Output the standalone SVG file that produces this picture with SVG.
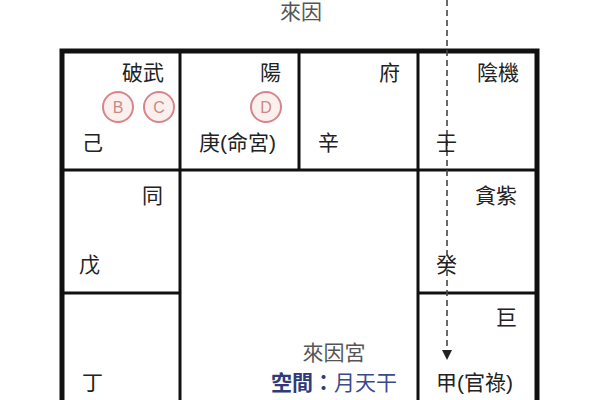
<svg xmlns="http://www.w3.org/2000/svg" width="600" height="400" viewBox="0 0 600 400">
<defs>
<style>
.t{font-family:"Liberation Sans","Noto Sans CJK TC",sans-serif;font-size:21px;fill:#222}
.g{fill:#555}
.c{fill:#fbf0ee;stroke:#d6868b;stroke-width:2}
.cl{font-family:"Liberation Sans",sans-serif;font-size:16px;fill:#c98a84;text-anchor:middle}
.in{stroke:#111;stroke-width:3;fill:none}
</style>
<marker id="ah" markerWidth="10" markerHeight="10" refX="10" refY="5" orient="auto" markerUnits="userSpaceOnUse" viewBox="0 0 10 10"><path d="M0,0 L10,5 L0,10 Z" fill="#222"/></marker>
</defs>
<rect width="600" height="400" fill="#fff"/>
<g id="grid">
<rect x="62" y="51" width="475" height="380" fill="none" stroke="#111" stroke-width="5"/>
<line class="in" x1="62" y1="170" x2="537" y2="170"/>
<line class="in" x1="180" y1="51" x2="180" y2="400"/>
<line class="in" x1="418" y1="51" x2="418" y2="400"/>
<line class="in" x1="299" y1="51" x2="299" y2="170"/>
<line class="in" x1="62" y1="293" x2="180" y2="293"/>
<line class="in" x1="418" y1="293" x2="537" y2="293"/>
</g>
<g id="connectors">
<line x1="447" y1="0" x2="447" y2="360" stroke="#444" stroke-width="1.6" stroke-dasharray="6,4" marker-end="url(#ah)"/>
</g>
<text class="t g" x="301" y="19" text-anchor="middle">來因</text>
<g id="cell-ji">
<text class="t" x="164" y="80" text-anchor="end">破武</text>
<circle class="c" cx="118" cy="107" r="15"/><text class="cl" x="118" y="113">B</text>
<circle class="c" cx="159" cy="107" r="15"/><text class="cl" x="159" y="113">C</text>
<text class="t" x="82" y="150">己</text>
</g>
<g id="cell-geng">
<text class="t" x="281" y="80" text-anchor="end">陽</text>
<circle class="c" cx="266" cy="107" r="15"/><text class="cl" x="266" y="113">D</text>
<text class="t" x="199" y="150">庚(命宮)</text>
</g>
<g id="cell-xin">
<text class="t" x="400" y="80" text-anchor="end">府</text>
<text class="t" x="318" y="150">辛</text>
</g>
<g id="cell-ren">
<text class="t" x="519" y="80" text-anchor="end">陰機</text>
<text class="t" x="436" y="150">壬</text>
</g>
<g id="cell-wu">
<text class="t" x="163" y="203" text-anchor="end">同</text>
<text class="t" x="79" y="272">戊</text>
</g>
<g id="cell-gui">
<text class="t" x="517" y="203" text-anchor="end">貪紫</text>
<text class="t" x="436" y="272">癸</text>
</g>
<g id="cell-ding">
<text class="t" x="82" y="390">丁</text>
</g>
<g id="cell-jia">
<text class="t" x="517" y="325" text-anchor="end">巨</text>
<text class="t" x="436" y="390">甲(官祿)</text>
</g>
<g id="center">
<text class="t g" x="334" y="360" text-anchor="middle">來因宮</text>
<text class="t" x="334" y="390" text-anchor="middle" style="fill:#3a4a8e"><tspan font-weight="bold" fill="#2e3b78">空間：</tspan>月天干</text>
</g>
</svg>
